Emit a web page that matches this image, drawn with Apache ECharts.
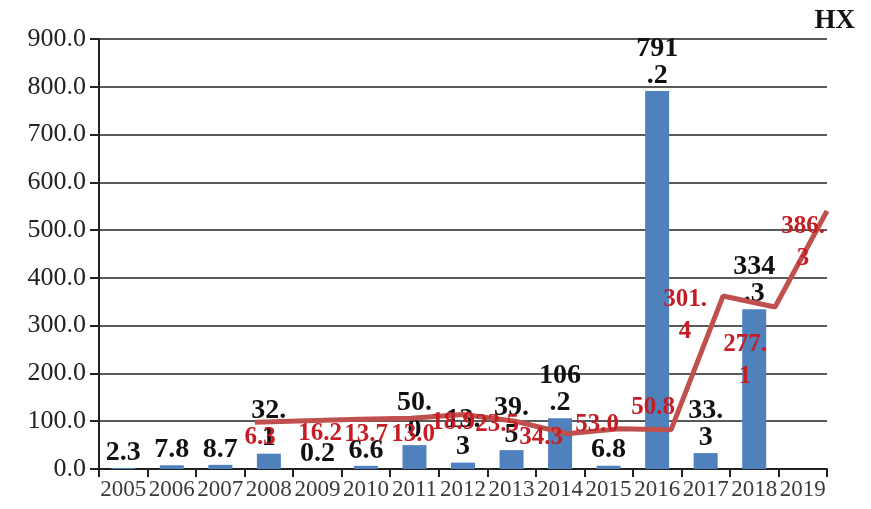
<!DOCTYPE html>
<html><head><meta charset="utf-8">
<script src="https://cdn.jsdelivr.net/npm/echarts@6/dist/echarts.min.js"></script>
<style>html,body{margin:0;padding:0;background:#fff}#c{width:871px;height:509px}</style>
</head><body><div id="c"></div>
<script>
// ---- data ----
const years = ['2005','2006','2007','2008','2009','2010','2011','2012','2013','2014','2015','2016','2017','2018','2019'];
const barValues = [2.3, 7.8, 8.7, 32.1, 0.2, 6.6, 50.0, 13.3, 39.5, 106.2, 6.8, 791.2, 33.3, 334.3, null];
// line height as drawn (read on the left axis scale)
const lineValues = [null, null, null, 98, 101, 104, 106, 114, 100, 74, 84, 82, 362, 339, 540];
// labels printed on the line
const lineLabels = ['', '', '', '6.3', '16.2', '13.7', '13.0', '18.9', '23.5', '34.3', '53.0', '50.8', '301.4', '277.1', '386.3'];
const yMin = 0, yMax = 900, yInterval = 100;

// ---- styles ----
const serif = "'Liberation Serif','Times New Roman',serif";
const lineLabelOffsets = [[0,0],[0,0],[0,0],[5,15],[13,13],[7,15],[2,16],[-10,8],[-18,3],[-26,4],[-22,-4],[-18,-22],[-38,20],[-30,54],[-24,32]];

// narrow label boxes wrap the text after n characters
function wrapAfter(s, n) { return s.length > n ? s.slice(0, n) + '\n' + s.slice(n) : s; }

const chart = echarts.init(document.getElementById('c'), null, {renderer: 'canvas'});
chart.setOption({
  animation: false,
  backgroundColor: '#fff',
  title: {
    text: 'HX', right: 11, top: 3,
    textStyle: {fontFamily: serif, fontWeight: 'bold', fontSize: 27, color: '#111'}
  },
  grid: {left: 99, right: 44, top: 39, bottom: 40, containLabel: false},
  xAxis: [{
    type: 'category', data: years, boundaryGap: true,
    axisLine: {lineStyle: {color: '#222', width: 2}},
    axisTick: {show: true, interval: 0, length: 8, lineStyle: {color: '#222', width: 2}},
    axisLabel: {interval: 0, margin: 9, fontFamily: serif, fontSize: 23, color: '#3a3a3a'}
  }, {
    type: 'category', data: years, boundaryGap: false, show: false
  }],
  yAxis: {
    type: 'value', min: yMin, max: yMax, interval: yInterval,
    axisLine: {show: true, lineStyle: {color: '#222', width: 2}},
    axisTick: {show: true, length: 9, lineStyle: {color: '#222', width: 2}},
    splitLine: {lineStyle: {color: '#222', width: 1.6}},
    axisLabel: {margin: 13, fontFamily: serif, fontSize: 26, color: '#222',
      formatter: v => v.toFixed(1)}
  },
  series: [{
    type: 'bar', data: barValues, barWidth: 24, xAxisIndex: 0,
    itemStyle: {color: '#4F81BD'},
    label: {
      show: true, position: 'top', distance: 2,
      formatter: p => p.value == null ? '' : wrapAfter(Number(p.value).toFixed(1), 3),
      fontFamily: serif, fontWeight: 'bold', fontSize: 28, color: '#111',
      lineHeight: 27, align: 'center'
    },
    z: 2
  }, {
    type: 'line', xAxisIndex: 1,
    data: lineValues.map((v, i) => v == null ? '-' : {value: v, label: {offset: lineLabelOffsets[i]}}),
    symbol: 'circle', symbolSize: 1, showAllSymbol: true,
    itemStyle: {color: '#C0504D'},
    lineStyle: {color: '#C0504D', width: 5},
    label: {
      show: true, position: 'inside',
      formatter: p => wrapAfter(lineLabels[p.dataIndex], 4),
      fontFamily: serif, fontWeight: 'bold', fontSize: 25, color: '#C41E24',
      lineHeight: 32, align: 'center'
    },
    z: 3
  }]
});
</script>
</body></html>
